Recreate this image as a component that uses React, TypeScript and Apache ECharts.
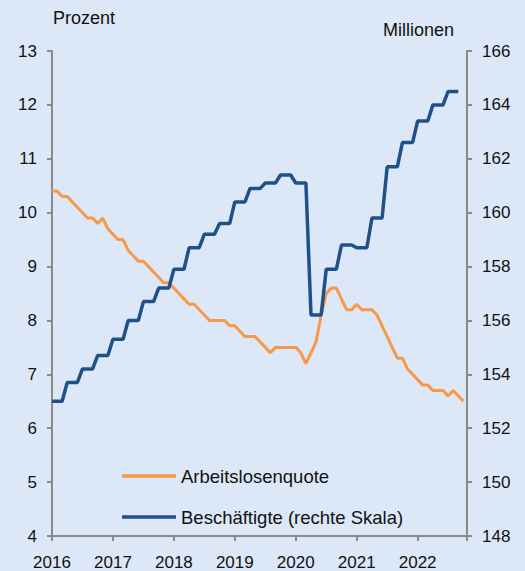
import React, { useEffect, useRef } from "react";
import * as echarts from "echarts";

// Arbeitslosenquote, monthly, Jan 2016 – Oct 2022 (Prozent)
const rate2016 = [10.4, 10.4, 10.3, 10.3, 10.2, 10.1, 10.0, 9.9, 9.9, 9.8, 9.9, 9.7];
const rate2017 = [9.6, 9.5, 9.5, 9.3, 9.2, 9.1, 9.1, 9.0, 8.9, 8.8, 8.7, 8.7];
const rate2018 = [8.6, 8.5, 8.4, 8.3, 8.3, 8.2, 8.1, 8.0, 8.0, 8.0, 8.0, 7.9];
const rate2019 = [7.9, 7.8, 7.7, 7.7, 7.7, 7.6, 7.5, 7.4, 7.5, 7.5, 7.5, 7.5];
const rate2020 = [7.5, 7.4, 7.2, 7.4, 7.6, 8.1, 8.5, 8.6, 8.6, 8.4, 8.2, 8.2];
const rate2021 = [8.3, 8.2, 8.2, 8.2, 8.1, 7.9, 7.7, 7.5, 7.3, 7.3, 7.1, 7.0];
const rate2022 = [6.9, 6.8, 6.8, 6.7, 6.7, 6.7, 6.6, 6.7, 6.6, 6.5];

// Beschäftigte, quarterly, Q1 2016 – Q3 2022 (Millionen)
const emp2016 = [153.0, 153.7, 154.2, 154.7];
const emp2017 = [155.3, 156.0, 156.7, 157.2];
const emp2018 = [157.9, 158.7, 159.2, 159.6];
const emp2019 = [160.4, 160.9, 161.1, 161.4];
const emp2020 = [161.1, 156.2, 157.9, 158.8];
const emp2021 = [158.7, 159.8, 161.7, 162.6];
const emp2022 = [163.4, 164.0, 164.5];

const startYear = 2016;
const xMax = 2022.81;
const yearTicks = [2016, 2017, 2018, 2019, 2020, 2021, 2022];

const seriesNames = ["Arbeitslosenquote", "Beschäftigte (rechte Skala)"];
const axisNames = ["Prozent", "Millionen"];

const FONT = "Liberation Sans, Arial, sans-serif";
const ORANGE = "#f79a48";
const BLUE = "#20508a";
const AXIS = "#8a8a8a";
const TEXT = "#111111";
const BG = "#dce8f7";

export default function App() {
  const ref = useRef<HTMLDivElement>(null);

  useEffect(() => {
    if (!ref.current) return;
    const chart = echarts.init(ref.current, undefined, { renderer: "svg" });

    const rate = [...rate2016, ...rate2017, ...rate2018, ...rate2019, ...rate2020, ...rate2021, ...rate2022];
    const rateData = rate.map((v, i) => [startYear + i / 12, v]);

    const emp = [...emp2016, ...emp2017, ...emp2018, ...emp2019, ...emp2020, ...emp2021, ...emp2022];
    const empData: number[][] = [];
    emp.forEach((v, q) => {
      for (let k = 0; k < 3; k++) empData.push([startYear + (q * 3 + k) / 12, v]);
    });

    const tickLabel = { fontFamily: FONT, fontSize: 17, color: TEXT };

    chart.setOption({
      animation: false,
      backgroundColor: BG,
      grid: { left: 52, right: 58, top: 51, bottom: 33 },
      legend: {
        orient: "vertical",
        left: 117,
        top: 461,
        icon: "rect",
        itemWidth: 54,
        itemHeight: 3.5,
        itemGap: 21,
        data: seriesNames,
        textStyle: { fontFamily: FONT, fontSize: 18.5, color: TEXT, lineHeight: 20 },
      },
      xAxis: {
        type: "value",
        min: startYear,
        max: xMax,
        interval: 1,
        splitLine: { show: false },
        axisLine: { lineStyle: { color: AXIS, width: 2 } },
        axisTick: { show: true, length: 5, lineStyle: { color: AXIS, width: 2 } },
        axisLabel: {
          ...tickLabel,
          margin: 18,
          formatter: (v: number) => (yearTicks.includes(Math.round(v * 1000) / 1000) ? String(v) : ""),
        },
      },
      yAxis: [
        {
          type: "value",
          min: 4,
          max: 13,
          interval: 1,
          splitLine: { show: false },
          axisLine: { show: true, lineStyle: { color: AXIS, width: 2 } },
          axisTick: { show: true, length: 5, lineStyle: { color: AXIS, width: 2 } },
          axisLabel: { ...tickLabel, margin: 15 },
        },
        {
          type: "value",
          min: 148,
          max: 166,
          interval: 2,
          position: "right",
          splitLine: { show: false },
          axisLine: { show: true, lineStyle: { color: AXIS, width: 2 } },
          axisTick: { show: true, length: 5, lineStyle: { color: AXIS, width: 2 } },
          axisLabel: { ...tickLabel, margin: 15 },
        },
      ],
      graphic: [
        {
          type: "text",
          x: 53,
          y: 18,
          style: { text: axisNames[0], font: `18px ${FONT}`, fill: TEXT, verticalAlign: "middle", align: "left" },
        },
        {
          type: "text",
          x: 454,
          y: 30,
          style: { text: axisNames[1], font: `18px ${FONT}`, fill: TEXT, verticalAlign: "middle", align: "right" },
        },
      ],
      series: [
        {
          name: seriesNames[0],
          type: "line",
          yAxisIndex: 0,
          data: rateData,
          symbol: "none",
          lineStyle: { color: ORANGE, width: 3 },
          itemStyle: { color: ORANGE },
        },
        {
          name: seriesNames[1],
          type: "line",
          yAxisIndex: 1,
          data: empData,
          symbol: "none",
          lineStyle: { color: BLUE, width: 3.5 },
          itemStyle: { color: BLUE },
        },
      ],
    });

    return () => chart.dispose();
  }, []);

  return (
    <div
      ref={ref}
      style={{ position: "absolute", left: 0, top: 0, width: 525, height: 571 }}
    />
  );
}
